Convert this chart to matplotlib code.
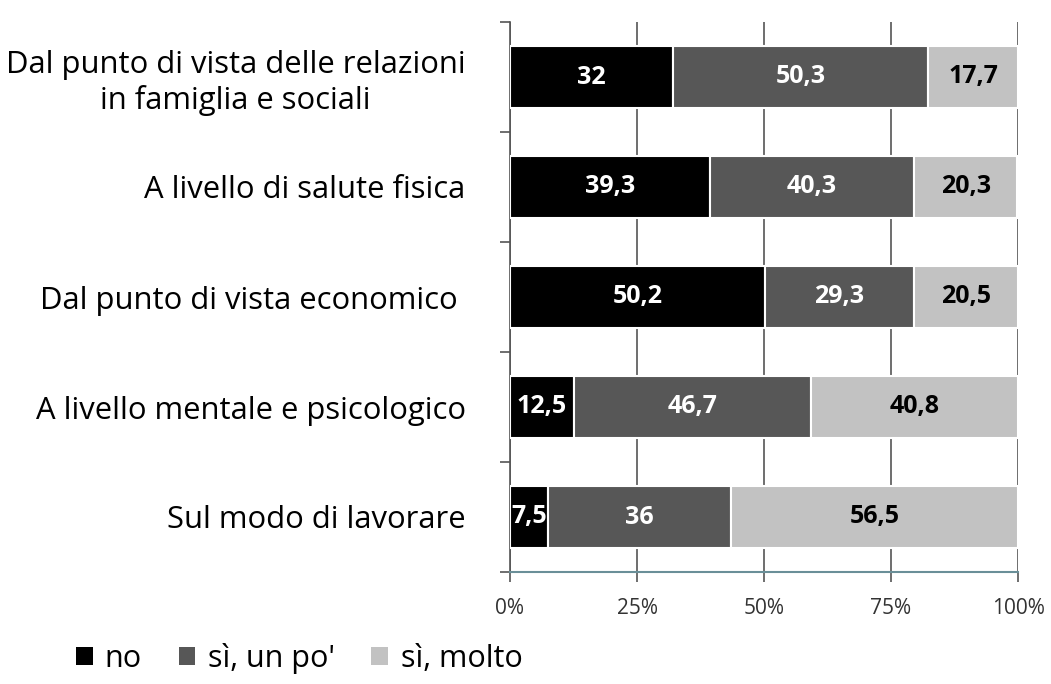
import matplotlib.pyplot as plt
import numpy as np
from matplotlib.patches import Patch

plt.rcParams['font.family'] = ['Open Sans', 'DejaVu Sans']

categories = [
    'Dal punto di vista delle relazioni\nin famiglia e sociali',
    'A livello di salute fisica',
    'Dal punto di vista economico ',
    'A livello mentale e psicologico',
    'Sul modo di lavorare',
]
no_vals = [32, 39.3, 50.2, 12.5, 7.5]
poco_vals = [50.3, 40.3, 29.3, 46.7, 36]
molto_vals = [17.7, 20.3, 20.5, 40.8, 56.5]
series_names = ['no', "sì, un po'", 'sì, molto']
series_colors = ['#000000', '#575757', '#c2c2c2']
text_colors = ['white', 'white', 'black']
xticks = [0, 25, 50, 75, 100]

fig = plt.figure(figsize=(10.51, 6.84), dpi=100)
ax = fig.add_axes([510 / 1051, 1 - 572 / 684, 508 / 1051, 550 / 684])

y = np.arange(len(categories))
left = np.zeros(len(categories))
for vals, color, tcol in zip([no_vals, poco_vals, molto_vals], series_colors, text_colors):
    vals = np.array(vals)
    ax.barh(y, vals, left=left, height=0.56, color=color, edgecolor='white',
            linewidth=1.5, zorder=3)
    for yi, l, v in zip(y, left, vals):
        ax.text(l + v / 2, yi, f'{v:g}'.replace('.', ','), ha='center', va='center',
                color=tcol, fontsize=18, fontweight='bold', zorder=4)
    left += vals

ax.set_xlim(0, 100)
ax.set_ylim(len(categories) - 0.5, -0.5)
ax.set_xticks(xticks)
ax.set_xticklabels([f'{t}%' for t in xticks], fontsize=15, color='#333333')
ax.xaxis.grid(True, color='#555555', linewidth=1.2, zorder=0)
ax.set_yticks(y)
ax.set_yticklabels(categories, fontsize=22.3, ha='right', multialignment='center',
                   linespacing=1.2)
ax.set_yticks(np.arange(-0.5, len(categories), 1), minor=True)
ax.tick_params(axis='y', which='major', length=0, pad=32)
ax.tick_params(axis='y', which='minor', length=7, width=1.2, color='#555555')
ax.tick_params(axis='x', length=7, width=1.2, color='#555555', pad=12)
for s in ['top', 'right']:
    ax.spines[s].set_visible(False)
ax.spines['left'].set_color('#555555')
ax.spines['left'].set_linewidth(1.2)
ax.spines['bottom'].set_color('#6a8f98')
ax.spines['bottom'].set_linewidth(1.5)

handles = [Patch(facecolor=c, edgecolor='none') for c in series_colors]
fig.legend(handles, series_names, loc='lower left', bbox_to_anchor=(0.046, -0.025),
           ncol=3, frameon=False, fontsize=22, handlelength=0.55, handleheight=0.55,
           handletextpad=0.4, columnspacing=1.2)

fig.savefig('out.png', dpi=100)
